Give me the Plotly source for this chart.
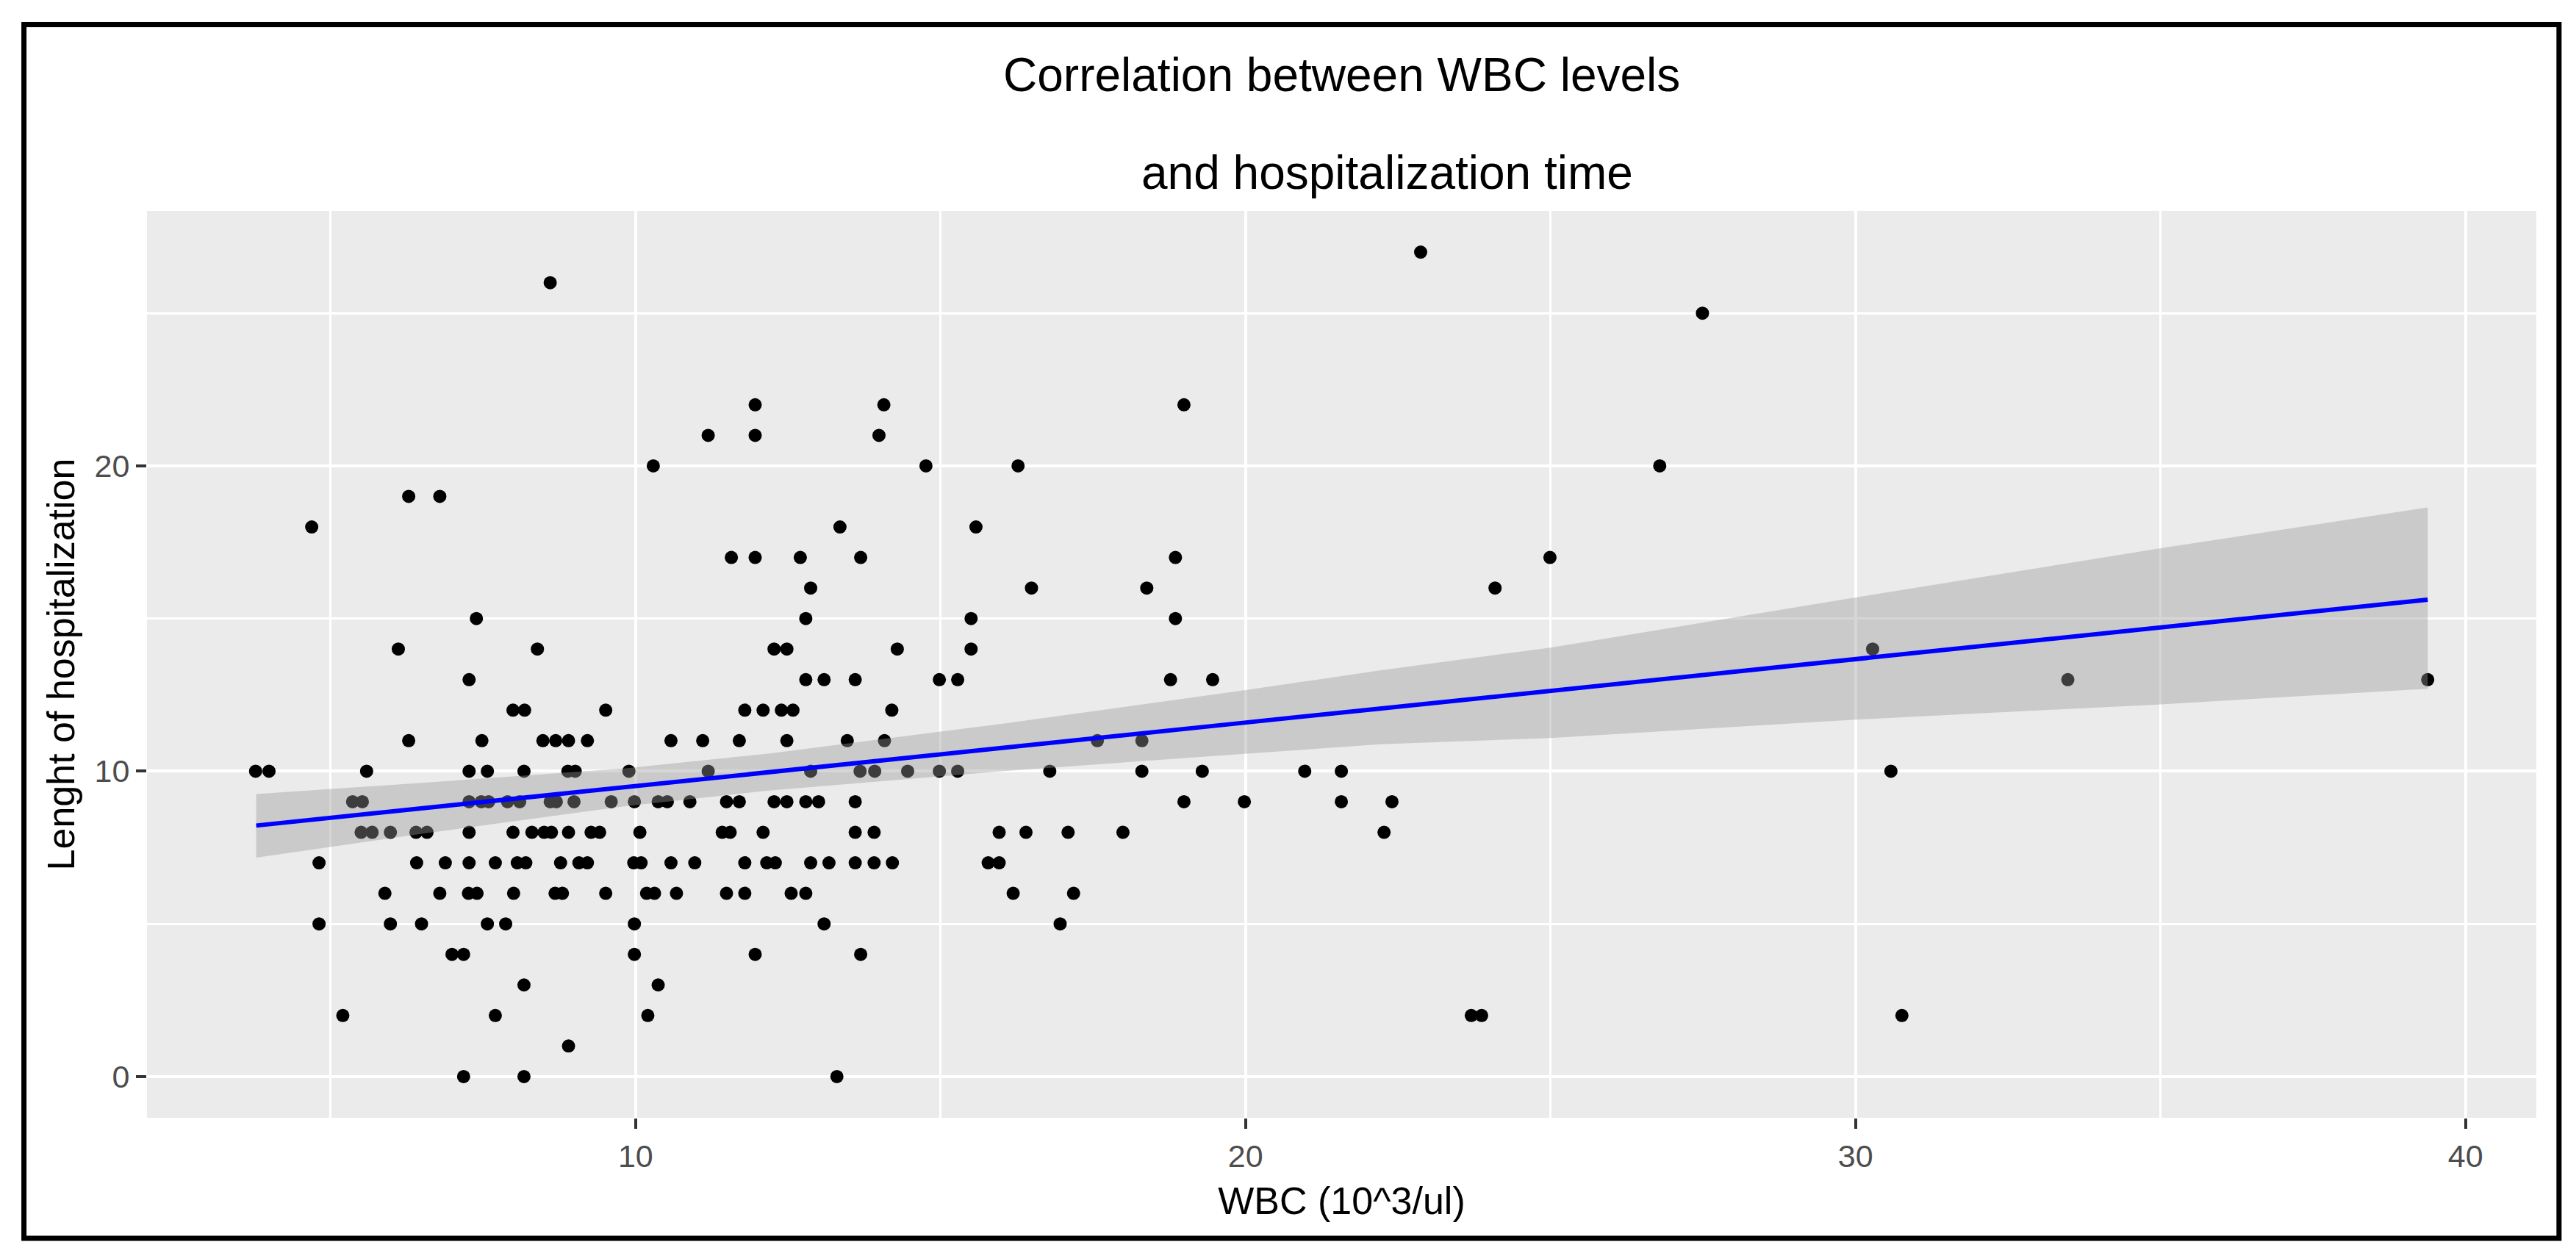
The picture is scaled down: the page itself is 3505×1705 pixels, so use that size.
import numpy as np
import plotly.graph_objects as go

# Length of hospitalization (days) and the WBC values (10^3/ul) seen at each one
stay_days = [0, 1, 2, 3, 4, 5, 6, 7, 8, 9, 10, 11, 12, 13, 14, 15, 16, 17, 18, 19, 20, 21, 22, 25, 26, 27]
wbc_by_stay = [
    [7.18, 8.17, 13.30],
    [8.90],
    [5.20, 7.70, 10.20, 23.70, 23.87, 30.76],
    [8.17, 10.37],
    [6.99, 7.18, 9.98, 11.96, 13.69],
    [4.81, 5.98, 6.49, 7.57, 7.87, 9.98, 13.09, 16.96],
    [5.89, 6.79, 7.26, 7.40, 8.00, 8.68, 8.80, 9.51, 10.18, 10.31, 10.67, 11.49,
     11.79, 12.55, 12.79, 16.19, 17.18],
    [4.81, 6.41, 6.88, 7.27, 7.70, 8.06, 8.20, 8.77, 9.07, 9.21, 9.97, 10.09,
     10.58, 10.97, 11.79, 12.15, 12.29, 12.87, 13.17, 13.60, 13.91, 14.21, 15.78, 15.96],
    [5.50, 5.68, 5.98, 6.40, 6.58, 7.27, 7.99, 8.30, 8.50, 8.62, 8.90, 9.27,
     9.41, 10.07, 11.42, 11.55, 12.09, 13.60, 13.91, 15.96, 16.40, 17.09, 17.99, 22.27],
    [5.36, 5.52, 7.27, 7.47, 7.59, 7.90, 8.10, 8.60, 8.70, 8.99, 9.60, 9.98,
     10.37, 10.52, 10.89, 11.49, 11.70, 12.27, 12.48, 12.79, 13.00, 13.60, 18.99,
     19.98, 21.57, 22.40],
    [3.77, 3.99, 5.59, 7.27, 7.57, 8.17, 8.89, 9.01, 9.89, 11.19, 12.87, 13.68,
     13.92, 14.46, 14.98, 15.28, 16.79, 18.30, 19.29, 20.97, 21.57, 30.58],
    [6.28, 7.48, 8.48, 8.69, 8.90, 9.21, 10.58, 11.10, 11.70, 12.48, 13.47, 14.08,
     17.57, 18.30],
    [7.99, 8.18, 9.51, 11.79, 12.09, 12.39, 12.58, 14.20],
    [7.27, 12.79, 13.09, 13.60, 14.98, 15.28, 18.77, 19.46, 33.48, 39.38],
    [6.11, 8.39, 12.27, 12.48, 14.29, 15.50, 30.28],
    [7.39, 12.79, 15.50, 18.85],
    [12.87, 16.49, 18.38, 24.09],
    [11.57, 11.96, 12.70, 13.69, 18.85, 24.99],
    [4.69, 13.35, 15.58],
    [6.28, 6.79],
    [10.29, 14.76, 16.27, 26.79],
    [11.19, 11.96, 13.99],
    [11.96, 14.07, 18.99],
    [27.49],
    [8.60],
    [22.87],
]

# linear smoother as drawn: fitted line and its 95% band, read at a few WBC values
smooth_wbc = [3.78, 6.5, 9.81, 12.15, 16.0, 19.98, 22.2, 25.0, 30.0, 35.0, 39.38]
smooth_fit = [8.22, 8.78, 9.47, 9.96, 10.76, 11.59, 12.05, 12.63, 13.67, 14.71, 15.62]
smooth_low = [7.17, 7.95, 8.85, 9.36, 10.00, 10.57, 10.88, 11.09, 11.69, 12.19, 12.70]
smooth_high = [9.25, 9.62, 10.09, 10.57, 11.55, 12.65, 13.30, 14.05, 15.69, 17.30, 18.64]

x_ticks = [10, 20, 30, 40]
y_ticks = [0, 10, 20]

FONT = "Liberation Sans, Arial, sans-serif"

wbc = [v for row in wbc_by_stay for v in row]
days = [d for d, row in zip(stay_days, wbc_by_stay) for _ in row]

fig = go.Figure()
fig.add_trace(go.Scatter(x=wbc, y=days, mode="markers",
                         marker={"color": "black", "size": 18}))
# band goes over the points, like geom_smooth does
fig.add_trace(go.Scatter(x=smooth_wbc + smooth_wbc[::-1],
                         y=smooth_high + smooth_low[::-1],
                         fill="toself", fillcolor="rgba(153,153,153,0.4)",
                         line={"width": 0}, mode="lines", hoverinfo="skip"))
fig.add_trace(go.Scatter(x=smooth_wbc, y=smooth_fit, mode="lines",
                         line={"color": "#0000FF", "width": 6}))

xpad = (max(wbc) - min(wbc)) * 0.05
ypad = (max(stay_days) - min(stay_days)) * 0.05

axis_style = dict(showline=False, zeroline=False, ticks="outside", ticklen=14,
                  tickwidth=3.5, tickcolor="#333333", gridcolor="white", gridwidth=4,
                  tickfont={"family": FONT, "size": 43, "color": "#4D4D4D"})
minor_grid = {"dtick": 5, "tick0": 0, "showgrid": True, "gridcolor": "white",
              "gridwidth": 3, "ticks": ""}

fig.update_layout(
    width=3505, height=1705,
    margin={"l": 200, "r": 54, "t": 287, "b": 184},
    paper_bgcolor="white", plot_bgcolor="#EBEBEB",
    showlegend=False,
    font={"family": FONT, "color": "black"},
    xaxis=dict(axis_style, range=[min(wbc) - xpad, max(wbc) + xpad], tickvals=x_ticks,
               minor=minor_grid,
               title={"text": "WBC (10^3/ul)", "font": {"size": 52, "family": FONT},
                      "standoff": 20}),
    yaxis=dict(axis_style, range=[min(stay_days) - ypad, max(stay_days) + ypad],
               tickvals=y_ticks, minor=minor_grid,
               title={"text": "Lenght of hospitalization", "font": {"size": 52, "family": FONT},
                      "standoff": 10}),
    annotations=[
        dict(text="Correlation between WBC levels", xref="paper", yref="paper",
             x=0.5, y=1.150, xanchor="center", yanchor="middle", showarrow=False,
             font={"size": 64, "family": FONT, "color": "black"}),
        dict(text="and hospitalization time", xref="paper", yref="paper",
             x=0.519, y=1.042, xanchor="center", yanchor="middle", showarrow=False,
             font={"size": 64, "family": FONT, "color": "black"}),
    ],
    shapes=[dict(type="rect", xref="paper", yref="paper", x0=-0.0515, x1=1.0095,
                 y0=-0.1329, y1=1.2054, line={"color": "black", "width": 7})],
)

fig.write_html("out.html", config={"displayModeBar": False},
               post_script="document.body.style.margin='0';document.body.style.overflow='hidden';")
